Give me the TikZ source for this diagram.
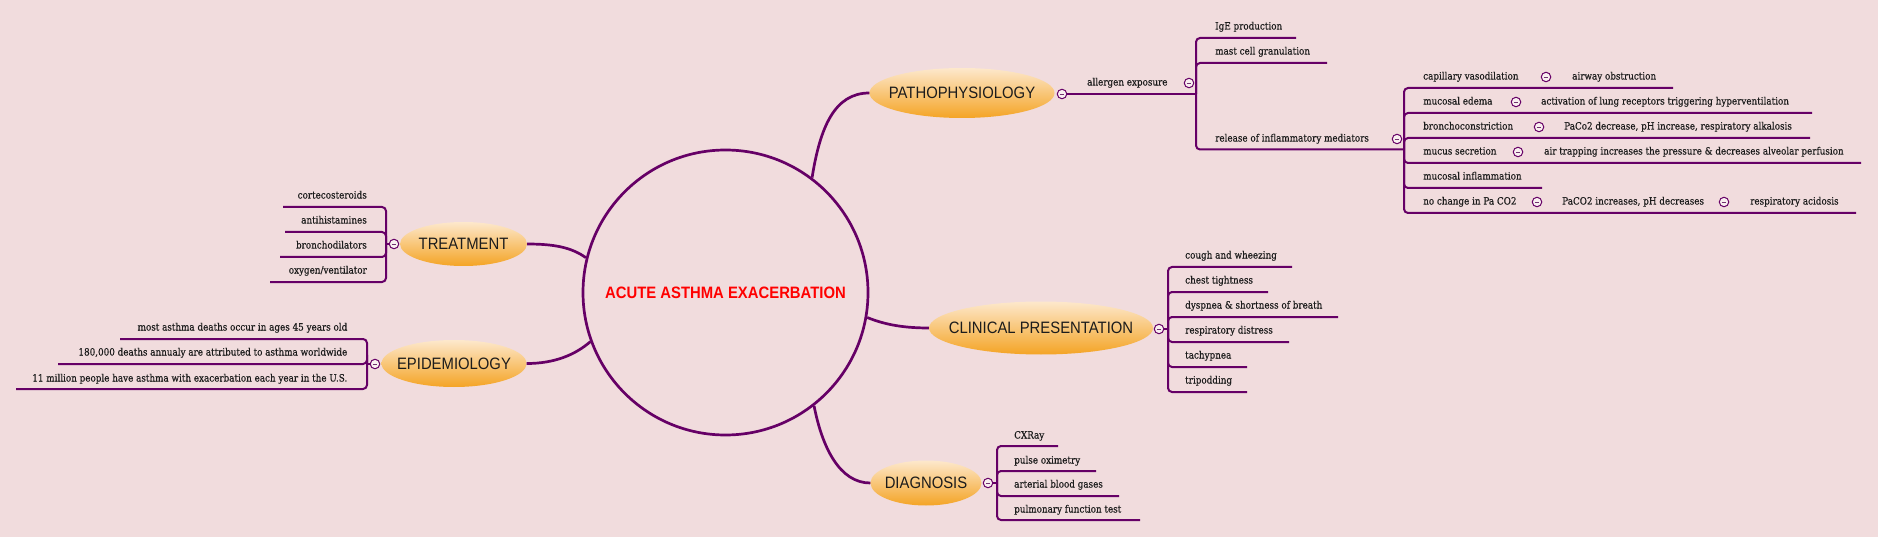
\documentclass[tikz,border=0pt]{standalone}
\usepackage{fontspec}
\usetikzlibrary{shapes.geometric}
\newfontfamily\topicfont[FakeStretch=0.9]{Liberation Sans}
\newfontfamily\subfont[FakeStretch=0.88,FakeBold=0.4]{DejaVu Serif}
\definecolor{bg}{HTML}{F1DCDD}
\definecolor{branch}{HTML}{660066}
\definecolor{otop}{HTML}{FDE8CC}
\definecolor{obot}{HTML}{F4A425}
\definecolor{ink}{HTML}{1C1C1C}
\definecolor{corered}{HTML}{FF0000}
\begin{document}
\begin{tikzpicture}[x=1pt,y=-1pt,
  maintopic/.style={ellipse, top color=otop, bottom color=obot, draw=none, inner sep=0},
  topictxt/.style={inner sep=0, font=\topicfont\fontsize{16.5pt}{18pt}\selectfont, text=ink},
  subtxt/.style={inner sep=0, text height=7pt, text depth=2pt, font=\subfont\fontsize{10pt}{11pt}\selectfont, text=ink, anchor=west},
  subtxtr/.style={subtxt, anchor=east},
  link/.style={draw=branch, line width=2.7pt},
  bline/.style={draw=branch, line width=2pt, rounded corners=4pt},
  foldmark/.style={circle, draw=branch, line width=1pt, fill=white!55!bg, minimum size=9.5pt, inner sep=0,
    path picture={\draw[branch!60!gray, line width=0.9pt] ([xshift=-2.3pt]path picture bounding box.center) -- ([xshift=2.3pt]path picture bounding box.center);}},
]
\useasboundingbox (0,0) rectangle (1878,537);
\fill[bg] (0,0) rectangle (1878,537);

% ---------- central topic ----------
\node[circle, draw=branch, line width=2.7pt, minimum size=285pt, inner sep=0] (core) at (725.5,292.5) {};
\node[inner sep=0, font=\topicfont\bfseries\fontsize{16.5pt}{18pt}\selectfont, text=corered] (coretxt) at (core) {ACUTE ASTHMA EXACERBATION};

% ---------- main topics ----------
\node[maintopic, minimum width=185pt, minimum height=50pt] (patho) at (962,93) {};
\node[topictxt] (pathotxt) at (patho) {PATHOPHYSIOLOGY};
\node[maintopic, minimum width=224pt, minimum height=53pt] (clin) at (1041,328) {};
\node[topictxt] (clintxt) at (clin) {CLINICAL PRESENTATION};
\node[maintopic, minimum width=111pt, minimum height=45pt] (diag) at (926,483) {};
\node[topictxt] (diagtxt) at (diag) {DIAGNOSIS};
\node[maintopic, minimum width=127pt, minimum height=44pt] (treat) at (463.5,244) {};
\node[topictxt] (treattxt) at (treat) {TREATMENT};
\node[maintopic, minimum width=145pt, minimum height=47pt] (epid) at (454,363.5) {};
\node[topictxt] (epidtxt) at (epid) {EPIDEMIOLOGY};

% ---------- main connectors ----------
\draw[link] (core.53.6) .. controls +(8,-50) and +(-35,0) .. (patho.west);
\draw[link] (core.-10) .. controls +(15,6) and +(-29,0) .. (clin.west);
\draw[link] (core.-52.8) .. controls +(8,41) and +(-31,0) .. (diag.west);
\draw[link] (treat.east) .. controls +(28,0) and +(-14,-10) .. (core.166);
\draw[link] (epid.east) .. controls +(28,0) and +(-15,13) .. (core.200);

% ---------- PATHOPHYSIOLOGY ----------
\node[foldmark] (fpatho) at (1062,94) {};
\node[subtxt] (allergen) at (1087,83) {allergen exposure};
\node[foldmark] (fallergen) at (1189,83) {};
\coordinate (b1) at (1196,94);
\draw[bline] (fpatho) -- (b1);
\node[subtxt] (ige) at (1215,27) {IgE production};
\node[subtxt] (mast) at (1215,52) {mast cell granulation};
\node[subtxt] (release) at (1215,139) {release of inflammatory mediators};
\node[foldmark] (frelease) at (1397,139) {};
\draw[bline] (b1) |- (1296,38);
\draw[bline] (b1) |- (1327,63);
\coordinate (b2) at (1404,149.5);
\draw[bline] (b1) |- (b2);

\node[subtxt] (capil) at (1423,77) {capillary vasodilation};
\node[foldmark] (fcapil) at (1546,77) {};
\node[subtxt] (airway) at (1572,77) {airway obstruction};
\draw[bline] (b2) |- (1673,88);

\node[subtxt] (edema) at (1423,102) {mucosal edema};
\node[foldmark] (fedema) at (1516,102) {};
\node[subtxt] (activ) at (1541,102) {activation of lung receptors triggering hyperventilation};
\draw[bline] (b2) |- (1812,113);

\node[subtxt] (broncho) at (1423,127) {bronchoconstriction};
\node[foldmark] (fbroncho) at (1539,127) {};
\node[subtxt] (alkal) at (1564,127) {PaCo2 decrease, pH increase, respiratory alkalosis};
\draw[bline] (b2) |- (1810,138);

\node[subtxt] (mucus) at (1423,152) {mucus secretion};
\node[foldmark] (fmucus) at (1518,152) {};
\node[subtxt] (trap) at (1544,152) {air trapping increases the pressure \& decreases alveolar perfusion};
\draw[bline] (b2) |- (1861,163);

\node[subtxt] (infl) at (1423,177) {mucosal inflammation};
\draw[bline] (b2) |- (1542,188);

\node[subtxt] (nochange) at (1423,202) {no change in Pa CO2};
\node[foldmark] (fnochange) at (1537,202) {};
\node[subtxt] (paco) at (1562,202) {PaCO2 increases, pH decreases};
\node[foldmark] (fpaco) at (1724,202) {};
\node[subtxt] (acid) at (1750,202) {respiratory acidosis};
\draw[bline] (b2) |- (1856,213);

% ---------- CLINICAL PRESENTATION ----------
\node[foldmark] (fclin) at (1159,329) {};
\coordinate (b3) at (1168,329);
\draw[bline] (fclin) -- (b3);
\node[subtxt] (cough) at (1185,256) {cough and wheezing};
\node[subtxt] (chest) at (1185,281) {chest tightness};
\node[subtxt] (dysp) at (1185,306) {dyspnea \& shortness of breath};
\node[subtxt] (distress) at (1185,331) {respiratory distress};
\node[subtxt] (tachy) at (1185,356) {tachypnea};
\node[subtxt] (tripod) at (1185,381) {tripodding};
\draw[bline] (b3) |- (1292,267);
\draw[bline] (b3) |- (1268,292);
\draw[bline] (b3) |- (1338,317);
\draw[bline] (b3) |- (1289,342);
\draw[bline] (b3) |- (1247,367);
\draw[bline] (b3) |- (1247,392);

% ---------- DIAGNOSIS ----------
\node[foldmark] (fdiag) at (988,483) {};
\coordinate (b4) at (997,483);
\draw[bline] (fdiag) -- (b4);
\node[subtxt] (cxr) at (1014,436) {CXRay};
\node[subtxt] (pulse) at (1014,461) {pulse oximetry};
\node[subtxt] (abg) at (1014,485) {arterial blood gases};
\node[subtxt] (pft) at (1014,510) {pulmonary function test};
\draw[bline] (b4) |- (1058,446);
\draw[bline] (b4) |- (1096,471);
\draw[bline] (b4) |- (1119,496);
\draw[bline] (b4) |- (1140,520);

% ---------- TREATMENT ----------
\node[foldmark] (ftreat) at (394,244) {};
\coordinate (b5) at (386,244);
\draw[bline] (ftreat) -- (b5);
\node[subtxtr] (corte) at (367,196) {cortecosteroids};
\node[subtxtr] (antih) at (367,221) {antihistamines};
\node[subtxtr] (bronchod) at (367,246) {bronchodilators};
\node[subtxtr] (oxy) at (367,271) {oxygen/ventilator};
\draw[bline] (b5) |- (283,207);
\draw[bline] (b5) |- (285,232);
\draw[bline] (b5) |- (280,257);
\draw[bline] (b5) |- (270,282);

% ---------- EPIDEMIOLOGY ----------
\node[foldmark] (fepid) at (375,364) {};
\coordinate (b6) at (367,364);
\draw[bline] (fepid) -- (b6);
\node[subtxtr] (deaths45) at (347.5,328) {most asthma deaths occur in ages 45 years old};
\node[subtxtr] (deaths180) at (347.5,353) {180,000 deaths annualy are attributed to asthma worldwide};
\node[subtxtr] (million) at (347.5,379) {11 million people have asthma with exacerbation each year in the U.S.};
\draw[bline] (b6) |- (120,339);
\draw[bline] (b6) |- (58,364);
\draw[bline] (b6) |- (16,389);
\end{tikzpicture}
\end{document}
